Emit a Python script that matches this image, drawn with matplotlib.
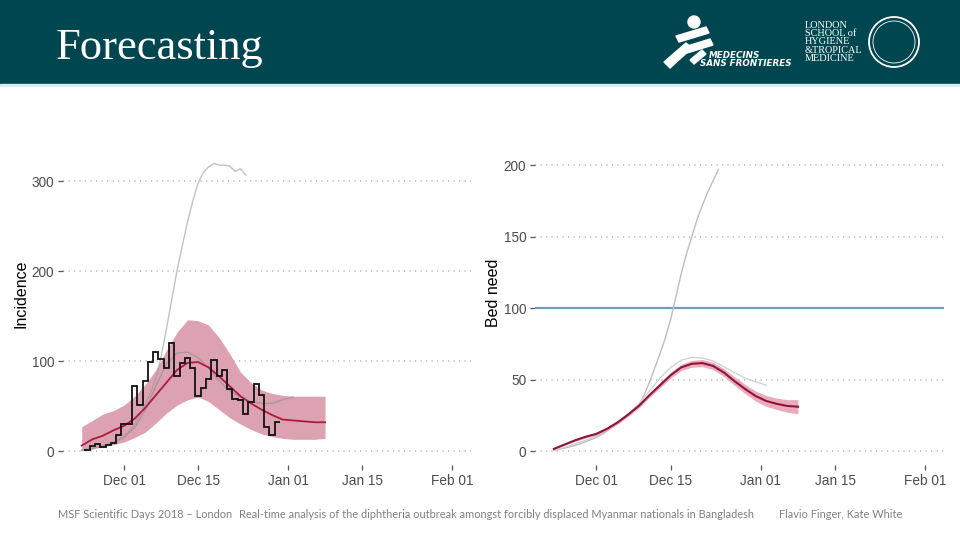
import numpy as np
import pandas as pd
import matplotlib
matplotlib.use('Agg')
import matplotlib.pyplot as plt
import matplotlib.dates as mdates
from matplotlib.patches import Rectangle, Ellipse, Polygon

# ---------------- data ----------------
# observed daily incidence (from Nov 24)
inc_start = '2017-11-24'
incidence = [1, 6, 8, 5, 7, 9, 18, 30, 30, 72, 51, 78, 99, 110, 102, 92, 120,
             84, 98, 103, 92, 61, 70, 80, 101, 83, 90, 69, 58, 57, 41, 54,
             75, 62, 27, 18, 32]

# forecast (every 2 days from Nov 23 to Jan 08)
fc_start, fc_end = '2017-11-23', '2018-01-08'
inc_median = [6, 13, 17, 23, 28, 36, 48, 62, 76, 90, 98, 99, 93, 83, 72, 61,
              53, 46, 40, 35, 34, 33, 32, 32]
inc_upper = [27, 34, 41, 45, 51, 61, 74, 90, 112, 132, 146, 145, 140, 126,
             108, 88, 76, 68, 64, 62, 61, 61, 61, 61]
inc_lower = [0, 3, 5, 7, 10, 15, 21, 31, 42, 51, 57, 60, 55, 46, 37, 30, 24,
             19, 16, 14, 13, 13, 13, 14]

# earlier forecasts (grey), incidence
inc_grey1_start = '2017-11-23'
inc_grey1 = [1, 2, 3, 4.5, 6, 8, 10, 13, 17, 22, 30, 40, 52, 65, 80, 105, 135,
             168, 200, 228, 255, 278, 298, 310, 316, 320, 318, 318, 317, 311,
             314, 307]
inc_grey2_start = '2017-11-23'
inc_grey2 = [1, 2, 5, 9, 15, 26, 45, 72, 97, 109, 110, 104, 92, 78, 67, 60, 55,
             53, 53, 57, 60]

# bed need
bed_median = [1.5, 4.5, 7.5, 10, 12, 15.5, 20, 25.5, 31.5, 39, 46, 53, 58.5,
              61, 61.5, 59.5, 55, 49, 43.5, 38.5, 35, 33, 31.5, 31]
bed_halfwidth = [0.5, 0.6, 0.8, 0.9, 1, 1.1, 1.2, 1.4, 1.5, 1.6, 1.8, 2, 2.2,
                 2.4, 2.5, 2.6, 2.7, 3, 3.2, 3.5, 3.8, 4, 4.4, 5]
bed_grey1 = [0.5, 1.2, 2, 3, 4, 5.2, 6.5, 8, 9.5, 11.5, 14, 16.5, 19, 22, 25,
             28.5, 32, 39, 48, 58, 68, 79, 92, 108, 124, 138, 150, 162, 172,
             181, 189, 197]
bed_grey2 = [0.5, 2.5, 5, 7.5, 10.5, 14.5, 19.5, 26, 33, 42, 51, 58.5, 63.5,
             65.5, 65, 63, 59, 55, 51, 48.5, 46]
bed_capacity = 100

x_ticks = ['2017-12-01', '2017-12-15', '2018-01-01', '2018-01-15', '2018-02-01']
inc_yticks = [0, 100, 200, 300]
bed_yticks = [0, 50, 100, 150, 200]

title = 'Forecasting'
footer_left = 'MSF Scientific Days 2018 – London'
footer_mid = ('Real-time analysis of the diphtheria outbreak amongst forcibly '
              'displaced Myanmar nationals in Bangladesh')
footer_right = 'Flavio Finger, Kate White'

# ---------------- style ----------------
RIBBON = '#dca2b2'
MEDIAN = '#ad1a3c'
TXT = '#4d4d4d'
GRID = '#b8b8b8'
TEAL = '#004650'
W, H = 960, 540

fig = plt.figure(figsize=(9.6, 5.4), dpi=100)
fig.patch.set_facecolor('white')


def fx(px):
    return px / W


def fy(py):
    return 1 - py / H


# header band
fig.add_artist(Rectangle((0, fy(84)), 1, 84 / H,
                         transform=fig.transFigure, color=TEAL, zorder=0))
fig.add_artist(Rectangle((0, fy(86)), 1, 2 / H,
                         transform=fig.transFigure, color='#d6eef2', zorder=0))
fig.text(fx(56), fy(59), title, color='white',
         family='Liberation Serif', fontsize=32, va='baseline', ha='left')

# MSF logo approximation
shapes = [
    [(676, 36), (706, 27), (709, 33), (679, 42)],
    [(684, 47), (710, 39), (713, 45), (687, 53)],
    [(664, 62), (686, 43), (692, 48), (670, 68)],
    [(690, 60), (702, 50), (706, 54), (694, 64)],
]
for s in shapes:
    fig.add_artist(Polygon([(fx(a), fy(b)) for a, b in s], closed=True,
                           transform=fig.transFigure, color='white'))
fig.add_artist(Ellipse((fx(694), fy(22)), 12 / W, 12 / H,
                       transform=fig.transFigure, color='white'))
fig.text(fx(709), fy(55), 'MEDECINS', color='white', fontsize=6.3,
         style='italic', weight='bold', family='DejaVu Sans Condensed',
         va='center', ha='left')
fig.text(fx(700), fy(64), 'SANS FRONTIERES', color='white', fontsize=6.3,
         style='italic', weight='bold', family='DejaVu Sans Condensed',
         va='center', ha='left')

# LSHTM logo approximation
fig.text(fx(805), fy(42), 'LONDON\nSCHOOL of\nHYGIENE\n&TROPICAL\nMEDICINE',
         color='white', fontsize=7.4, family='Liberation Serif',
         va='center', ha='left', linespacing=0.92)
fig.add_artist(Ellipse((fx(894), fy(42)), 50 / W, 50 / H,
                       transform=fig.transFigure, fill=False, ec='white',
                       lw=1.3))
fig.add_artist(Ellipse((fx(894), fy(42)), 42 / W, 42 / H,
                       transform=fig.transFigure, fill=False, ec='white',
                       lw=0.6))

# footer
for txt, xpos, ha in [(footer_left, 58, 'left'), (footer_mid, 239, 'left'),
                      (footer_right, 902, 'right')]:
    fig.text(fx(xpos), fy(515), txt, color='#808080', fontsize=7.9,
             family='Lato', va='center', ha=ha)

# ---------------- axes ----------------
fc_dates = pd.date_range(fc_start, fc_end, periods=len(inc_median))
t0 = mdates.date2num(pd.Timestamp(fc_start))
t1 = mdates.date2num(pd.Timestamp(x_ticks[-1]))
pad = 0.05 * (t1 - t0)
tick_nums = [mdates.date2num(pd.Timestamp(t)) for t in x_ticks]


def style_axes(ax, yticks, ylabel, ylim):
    for sp in ax.spines.values():
        sp.set_visible(False)
    ax.set_xlim(t0 - pad, t1 + pad)
    ax.set_ylim(*ylim)
    ax.set_xticks(tick_nums)
    ax.xaxis.set_major_formatter(mdates.DateFormatter('%b %d'))
    ax.set_yticks(yticks)
    ax.tick_params(axis='both', colors='#555555', labelcolor=TXT,
                   labelsize=9.8, length=3.5, width=0.9)
    ax.tick_params(axis='x', pad=3)
    ax.tick_params(axis='y', pad=3)
    for lab in ax.get_xticklabels() + ax.get_yticklabels():
        lab.set_family('Liberation Sans')
    ax.grid(axis='y', color=GRID, linestyle=(0, (0.8, 2.8)), linewidth=1.1)
    ax.grid(axis='x', visible=False)
    ax.set_axisbelow(True)
    ax.set_ylabel(ylabel, fontsize=11.5, family='Liberation Sans',
                  color='black')


# left: incidence
L_left, L_right, L_bot, L_top = 63.2, 470.5, 465.4, 149
axL = fig.add_axes([fx(L_left), fy(L_bot), (L_right - L_left) / W,
                    (L_bot - L_top) / H])
style_axes(axL, inc_yticks, 'Incidence', (-16, 336))
axL.yaxis.set_label_coords(-(L_left - 28) / (L_right - L_left),
                           (L_bot - 294) / (L_bot - L_top))
axL.fill_between(fc_dates, inc_lower, inc_upper, color=RIBBON, lw=0,
                 zorder=1)
g1_dates = pd.date_range(inc_grey1_start, periods=len(inc_grey1), freq='D')
axL.plot(g1_dates, inc_grey1, color='#9a9a9a', alpha=0.6, lw=1.0, zorder=2)
g2_dates = pd.date_range(inc_grey2_start, periods=len(inc_grey2), freq='2D')
axL.plot(g2_dates, inc_grey2, color='#8a8a8a', alpha=0.55, lw=1.0, zorder=2)
axL.plot(fc_dates, inc_median, color=MEDIAN, lw=1.3, zorder=3)
inc_dates = pd.date_range(inc_start, periods=len(incidence), freq='D')
edges = np.append(mdates.date2num(inc_dates) - 0.5,
                  mdates.date2num(inc_dates[-1]) + 0.5)
axL.stairs(incidence, edges, color='#111111', lw=1.3, baseline=None,
           zorder=4)

# right: bed need
R_left, R_right, R_bot, R_top = 535.3, 943.9, 465.1, 155.3
axR = fig.add_axes([fx(R_left), fy(R_bot), (R_right - R_left) / W,
                    (R_bot - R_top) / H])
style_axes(axR, bed_yticks, 'Bed need', (-9.85, 206.8))
axR.yaxis.set_label_coords(-(R_left - 501) / (R_right - R_left),
                           (R_bot - 293) / (R_bot - R_top))
bm = np.array(bed_median)
bh = np.array(bed_halfwidth)
axR.axhline(bed_capacity, color='#6e9fb9', lw=1.6, zorder=1)
bg1_dates = pd.date_range(fc_start, periods=len(bed_grey1), freq='D')
axR.plot(bg1_dates, bed_grey1, color='#bdbdbd', lw=1.0, zorder=2)
bg2_dates = pd.date_range(fc_start, periods=len(bed_grey2), freq='2D')
axR.plot(bg2_dates, bed_grey2, color='#cfcfcf', lw=0.9, zorder=2)
axR.fill_between(fc_dates, bm - bh, bm + bh, color='#e8a3b5', lw=0,
                 alpha=0.9, zorder=3)
axR.plot(fc_dates, bm, color='#8e1538', lw=1.5, zorder=4)

fig.savefig('out.png', dpi=100)
